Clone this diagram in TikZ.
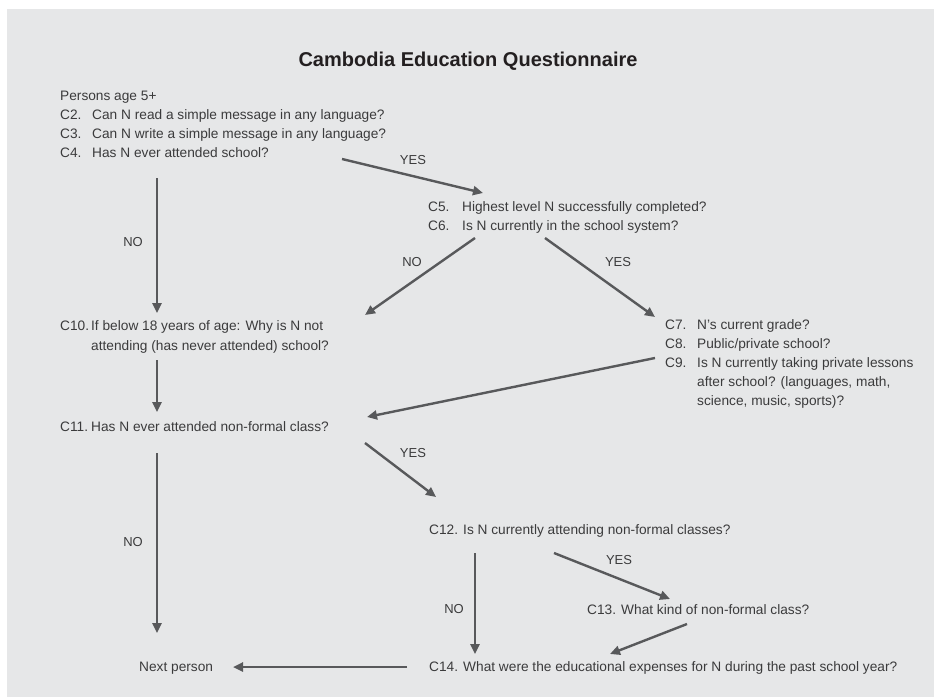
\documentclass[tikz,border=0pt]{standalone}
\usepackage{fontspec}
\setmainfont{Liberation Sans}
\usetikzlibrary{arrows.meta}
\definecolor{panel}{HTML}{E6E7E8}
\definecolor{ink}{HTML}{3B3B3C}
\definecolor{flow}{HTML}{58595B}
\definecolor{head}{HTML}{231F20}
\begin{document}
\begin{tikzpicture}[x=1pt,y=-1pt,
  q/.style={anchor=base west,inner sep=0pt,text=ink,font=\fontsize{13.7}{19}\selectfont},
  ans/.style={inner sep=0pt,text=ink,font=\fontsize{13}{15}\selectfont},
  flowarrow/.style={draw=flow,line width=2.4pt,-{Triangle[length=10pt,width=9pt]}}]
\useasboundingbox (0,0) rectangle (934,698);
\fill[white] (0,0) rectangle (934,698);
\fill[panel] (7,9) rectangle (934,697);

% heading
\node[inner sep=0pt,text=head,font=\bfseries\fontsize{20}{24}\selectfont] (title) at (468,61) {Cambodia Education Questionnaire};

% question groups
\node[q] (q1) at (60,101) {\begin{tabular}[t]{@{}p{32pt}@{}l@{}}
\multicolumn{2}{@{}l@{}}{Persons age 5+}\\
C2. & Can N read a simple message in any language?\\
C3. & Can N write a simple message in any language?\\
C4. & Has N ever attended school?
\end{tabular}};

\node[q] (q5) at (428,211) {\begin{tabular}[t]{@{}p{34pt}@{}l@{}}
C5. & Highest level N successfully completed?\\
C6. & Is N currently in the school system?
\end{tabular}};

\node[q] (q10) at (60,330) {\begin{tabular}[t]{@{}p{31pt}@{}l@{}}
C10. & If below 18 years of age: Why is N not\\[1pt]
 & attending (has never attended) school?
\end{tabular}};

\node[q] (q7) at (665,329) {\begin{tabular}[t]{@{}p{32pt}@{}l@{}}
C7. & N's current grade?\\
C8. & Public/private school?\\
C9. & Is N currently taking private lessons\\
 & after school? (languages, math,\\
 & science, music, sports)?
\end{tabular}};

\node[q] (q11) at (60,431) {\begin{tabular}[t]{@{}p{31pt}@{}l@{}}
C11. & Has N ever attended non-formal class?
\end{tabular}};

\node[q] (q12) at (429,534) {C12. Is N currently attending non-formal classes?};
\node[q] (q13) at (587,614) {C13. What kind of non-formal class?};
\node[q] (q14) at (429,671) {C14. What were the educational expenses for N during the past school year?};
\node[q] (next) at (139,671) {Next person};

% answer labels
\node[ans] (yes1) at (413,160) {YES};
\node[ans] (no1)  at (133,242) {NO};
\node[ans] (no2)  at (412,262) {NO};
\node[ans] (yes2) at (618,262) {YES};
\node[ans] (yes3) at (413,453) {YES};
\node[ans] (no3)  at (133,542) {NO};
\node[ans] (yes4) at (619,560) {YES};
\node[ans] (no4)  at (454,609) {NO};

% connector ends
\coordinate (c4yes) at (342,159);  \coordinate (c5in)  at (483,193);
\coordinate (c4no)  at (157,178);  \coordinate (c10in) at (157,313);
\coordinate (c6no)  at (475,238);  \coordinate (c10r)  at (365,315);
\coordinate (c6yes) at (545,238);  \coordinate (c7in)  at (655,317);
\coordinate (c10out) at (157,360); \coordinate (c11in) at (157,412);
\coordinate (c9out) at (655,358);  \coordinate (c11r)  at (367,417);
\coordinate (c11yes) at (365,443); \coordinate (c12in) at (436,497);
\coordinate (c11no) at (157,453);  \coordinate (nextin) at (157,633);
\coordinate (c12no) at (475,553);  \coordinate (c14in) at (475,654);
\coordinate (c12yes) at (554,553); \coordinate (c13in) at (670,599);
\coordinate (c13out) at (687,624); \coordinate (c14r) at (610,654);
\coordinate (c14out) at (407,667); \coordinate (nextr) at (233,667);

% flow
\draw[flowarrow] (c4yes) -- (c5in);
\draw[flowarrow] (c4no) -- (c10in);
\draw[flowarrow] (c6no) -- (c10r);
\draw[flowarrow] (c6yes) -- (c7in);
\draw[flowarrow] (c10out) -- (c11in);
\draw[flowarrow] (c9out) -- (c11r);
\draw[flowarrow] (c11yes) -- (c12in);
\draw[flowarrow] (c11no) -- (nextin);
\draw[flowarrow] (c12no) -- (c14in);
\draw[flowarrow] (c12yes) -- (c13in);
\draw[flowarrow] (c13out) -- (c14r);
\draw[flowarrow] (c14out) -- (nextr);
\end{tikzpicture}
\end{document}
